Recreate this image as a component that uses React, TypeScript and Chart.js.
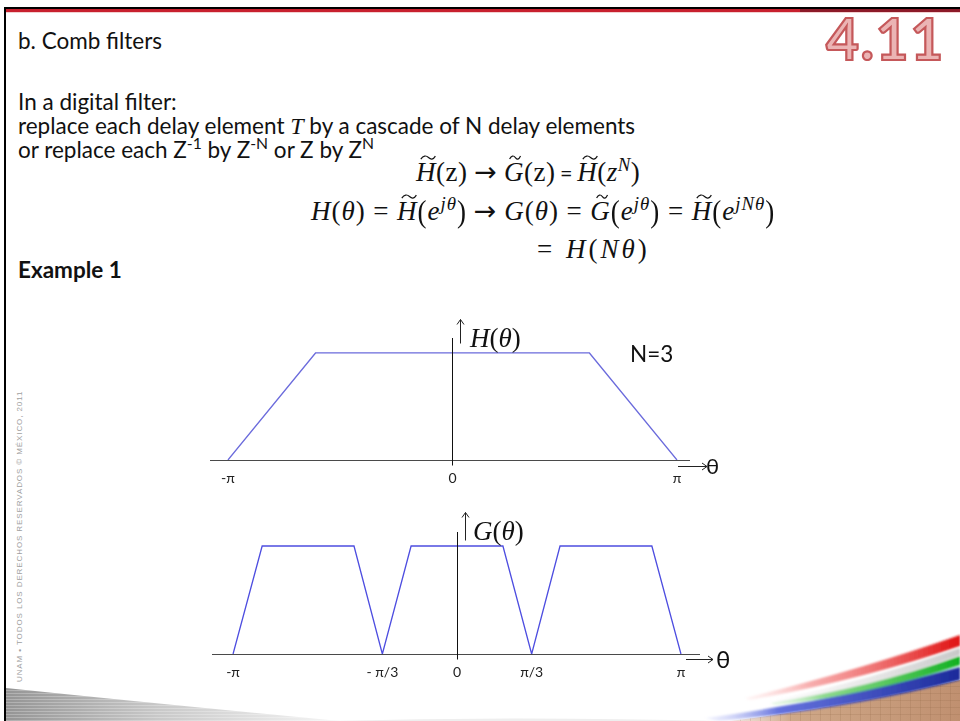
import React, { useEffect, useRef } from "react";
import { Chart, registerables } from "chart.js";

Chart.register(...registerables);

// Frequency axis in units of π, magnitude normalised to 1.
const hTheta = [-1, -0.61, 0.61, 1];
const hValue = [0, 1, 1, 0];
const gTheta = [-1, -0.87, -0.46, -1 / 3, -0.205, 0.205, 1 / 3, 0.46, 0.87, 1];
const gValue = [0, 1, 1, 0, 1, 1, 0, 1, 1, 0];

const hTicks = [-1, 0, 1];
const hTickLabels = ["-π", "0", "π"];
const gTicks = [-1, -1 / 3, 0, 1 / 3, 1];
const gTickLabels = ["-π", "- π/3", "0", "π/3", "π"];

const SANS = 'Lato, "Open Sans", "Noto Sans", sans-serif';
const SERIF = '"Liberation Serif", "DejaVu Serif", serif';

type ArrowOpts = {
  rx1: number; rx2: number; ry: number; // right arrow: offsets from chartArea.right / zero line
  ux: number; uy1: number; uy2: number; // up arrow: offsets from zero value pixel
  vTop: number; // value at which the vertical axis begins
};

const axesPlugin = {
  id: "combAxes",
  afterDatasetsDraw(chart: any, _args: any, opts: ArrowOpts) {
    const { ctx, chartArea, scales } = chart;
    const x = scales.x;
    const y = scales.y;
    const y0 = Math.round(y.getPixelForValue(0)) + 0.5;
    const x0 = Math.round(x.getPixelForValue(0)) + 0.5;
    ctx.save();
    ctx.lineWidth = 1;
    // horizontal axis
    ctx.strokeStyle = "#4a4a4a";
    ctx.beginPath();
    ctx.moveTo(chartArea.left, y0);
    ctx.lineTo(chartArea.right, y0);
    ctx.stroke();
    // vertical axis
    ctx.strokeStyle = "#111";
    ctx.beginPath();
    ctx.moveTo(x0, Math.round(y.getPixelForValue(opts.vTop)));
    ctx.lineTo(x0, y0 + 5);
    ctx.stroke();
    // right arrow
    const ax1 = chartArea.right + opts.rx1;
    const ax2 = chartArea.right + opts.rx2;
    const ay = y0 + opts.ry;
    ctx.strokeStyle = "#222";
    ctx.beginPath();
    ctx.moveTo(ax1, ay);
    ctx.lineTo(ax2, ay);
    ctx.moveTo(ax2 - 5, ay - 3.5);
    ctx.lineTo(ax2, ay);
    ctx.lineTo(ax2 - 5, ay + 3.5);
    ctx.stroke();
    // up arrow
    const ux = x0 + opts.ux;
    const uy1 = y0 + opts.uy1;
    const uy2 = y0 + opts.uy2;
    ctx.beginPath();
    ctx.moveTo(ux, uy2);
    ctx.lineTo(ux, uy1);
    ctx.moveTo(ux - 3.5, uy1 + 5);
    ctx.lineTo(ux, uy1);
    ctx.lineTo(ux + 3.5, uy1 + 5);
    ctx.stroke();
    ctx.restore();
  },
};

type PlotProps = {
  theta: number[];
  values: number[];
  ticks: number[];
  tickLabels: string[];
  left: number;
  top: number;
  width: number;
  height: number;
  padTop: number;
  padRight: number;
  xMin: number;
  xMax: number;
  yMax: number;
  color: string;
  arrows: ArrowOpts;
};

function ResponsePlot(p: PlotProps) {
  const ref = useRef<HTMLCanvasElement>(null);
  useEffect(() => {
    if (!ref.current) return;
    const chart = new Chart(ref.current, {
      type: "line",
      data: {
        datasets: [
          {
            data: p.theta.map((t, i) => ({ x: t, y: p.values[i] })),
            borderColor: p.color,
            borderWidth: 1.3,
            pointRadius: 0,
            tension: 0,
            fill: false,
          },
        ],
      },
      options: {
        animation: false,
        responsive: false,
        maintainAspectRatio: false,
        events: [],
        layout: { padding: { top: p.padTop, right: p.padRight, left: 0, bottom: 0 } },
        plugins: {
          legend: { display: false },
          tooltip: { enabled: false },
          combAxes: p.arrows,
        } as any,
        scales: {
          x: {
            type: "linear",
            min: p.xMin,
            max: p.xMax,
            grid: { display: false, drawTicks: false },
            border: { display: false },
            afterBuildTicks: (s: any) => {
              s.ticks = p.ticks.map((v) => ({ value: v }));
            },
            afterFit: (s: any) => {
              s.height = 30;
            },
            ticks: {
              autoSkip: false,
              maxRotation: 0,
              padding: 10,
              color: "#222",
              font: { family: SANS, size: 14 },
              callback: (_v: any, i: number) => p.tickLabels[i],
            },
          },
          y: { display: false, min: 0, max: p.yMax },
        },
      },
      plugins: [axesPlugin as any],
    });
    return () => chart.destroy();
  }, []);
  return (
    <canvas
      ref={ref}
      width={p.width}
      height={p.height}
      style={{ position: "absolute", left: p.left, top: p.top, width: p.width, height: p.height }}
    />
  );
}

// Letter with a wide tilde drawn over it.
function Tilde({ ch, w = 0.6, dx = 0.16 }: { ch: string; w?: number; dx?: number }) {
  return (
    <span style={{ position: "relative", display: "inline-block", fontStyle: "italic" }}>
      {ch}
      <svg
        viewBox="0 0 20 6"
        preserveAspectRatio="none"
        style={{ position: "absolute", left: `${dx}em`, top: "-0.06em", width: `${w}em`, height: "0.2em", overflow: "visible" }}
      >
        <path d="M1 4.5 C4 0.5, 7.5 0.2, 10.5 2.8 S16 5.6, 19 1.2" stroke="#111" strokeWidth={1.2} fill="none" vectorEffect="non-scaling-stroke" />
      </svg>
    </span>
  );
}

const sup: React.CSSProperties = { fontSize: "0.7em", verticalAlign: "0.55em", lineHeight: 0 };
const op: React.CSSProperties = { margin: "0 0.28em", fontStyle: "normal" };
const arrowOp: React.CSSProperties = { margin: "0 0.25em", fontStyle: "normal", fontFamily: '"DejaVu Sans", sans-serif', fontSize: "1em" };

function BigParen({ c }: { c: string }) {
  return <span style={{ display: "inline-block", transform: "scaleY(1.18)", fontStyle: "normal" }}>{c}</span>;
}

const bodyText: React.CSSProperties = {
  position: "absolute",
  left: 18,
  fontFamily: SANS,
  fontSize: 22.5,
  lineHeight: "26px",
  color: "#111",
  whiteSpace: "nowrap",
};

const mathLine: React.CSSProperties = {
  position: "absolute",
  fontFamily: SERIF,
  fontSize: 27,
  lineHeight: "30px",
  color: "#111",
  whiteSpace: "nowrap",
};

function Decorations() {
  return (
    <svg width={960} height={721} style={{ position: "absolute", left: 0, top: 0 }}>
      <defs>
        <linearGradient id="wedgeG" x1="6" x2="340" y1="0" y2="0" gradientUnits="userSpaceOnUse">
          <stop offset="0" stopColor="#959595" />
          <stop offset="0.45" stopColor="#c8c8c8" />
          <stop offset="1" stopColor="#f6f6f6" />
        </linearGradient>
        <linearGradient id="redG" x1="730" x2="960" y1="0" y2="0" gradientUnits="userSpaceOnUse">
          <stop offset="0" stopColor="#ffd0d0" stopOpacity="0" />
          <stop offset="0.35" stopColor="#f48a8a" stopOpacity="0.7" />
          <stop offset="1" stopColor="#e01010" />
        </linearGradient>
        <linearGradient id="greenG" x1="750" x2="960" y1="0" y2="0" gradientUnits="userSpaceOnUse">
          <stop offset="0" stopColor="#c8f0c8" stopOpacity="0" />
          <stop offset="0.35" stopColor="#70d070" stopOpacity="0.8" />
          <stop offset="1" stopColor="#10b020" />
        </linearGradient>
        <linearGradient id="blueG" x1="700" x2="960" y1="0" y2="0" gradientUnits="userSpaceOnUse">
          <stop offset="0" stopColor="#d8dcff" stopOpacity="0.2" />
          <stop offset="0.3" stopColor="#4a5ad8" stopOpacity="0.85" />
          <stop offset="1" stopColor="#1a2a9a" />
        </linearGradient>
        <linearGradient id="greyBand" x1="760" x2="960" y1="0" y2="0" gradientUnits="userSpaceOnUse">
          <stop offset="0" stopColor="#e0e0e0" stopOpacity="0" />
          <stop offset="1" stopColor="#c8c8c8" />
        </linearGradient>
        <linearGradient id="brownG" x1="720" x2="960" y1="0" y2="0" gradientUnits="userSpaceOnUse">
          <stop offset="0" stopColor="#e8d4c4" stopOpacity="0.4" />
          <stop offset="0.3" stopColor="#cfa888" />
          <stop offset="1" stopColor="#c09070" />
        </linearGradient>
        <pattern id="gridP" width="10" height="7" patternUnits="userSpaceOnUse">
          <path d="M0 0 H10 M0 0 V7" stroke="#8a6040" strokeWidth="1" opacity="0.35" fill="none" />
        </pattern>
        <pattern id="stripeP" width="8" height="3" patternUnits="userSpaceOnUse">
          <path d="M0 0.5 H8" stroke="#ffffff" strokeWidth="1" opacity="0.25" fill="none" />
        </pattern>
        <filter id="soft" x="-5%" y="-50%" width="110%" height="200%">
          <feGaussianBlur stdDeviation="1.1" />
        </filter>
      </defs>
      {/* grey wedge, bottom left */}
      <path d="M6 688 Q 150 703 340 721 L 6 721 Z" fill="url(#wedgeG)" />
      <path d="M6 688 Q 150 703 340 721 L 6 721 Z" fill="url(#stripeP)" />
      <path d="M330 721 Q 520 716 720 721 Z" fill="#eeeeee" />
      {/* brown grid base, bottom right */}
      <path d="M730 721 Q 850 706 960 680 L 960 721 Z" fill="url(#brownG)" />
      <path d="M730 721 Q 850 706 960 680 L 960 721 Z" fill="url(#gridP)" />
      {/* coloured sweep */}
      <g filter="url(#soft)">
        <path d="M705 718 Q 840 700 960 667 L 960 680 Q 850 709 718 721 Z" fill="url(#blueG)" />
        <path d="M770 703 Q 870 688 960 656 L 960 665 Q 870 695 775 705 Z" fill="url(#greenG)" />
        <path d="M775 700 Q 870 680 960 648 L 960 655 Q 870 688 780 702 Z" fill="url(#greyBand)" />
        <path d="M745 698 Q 860 670 960 635 L 960 646 Q 865 679 750 700 Z" fill="url(#redG)" />
      </g>
    </svg>
  );
}

export default function App() {
  return (
    <div
      style={{
        position: "fixed",
        left: 0,
        top: 0,
        width: 960,
        height: 721,
        background: "#fff",
        overflow: "hidden",
      }}
    >
      {/* slide frame */}
      <div style={{ position: "absolute", left: 4, top: 7, width: 956, height: 2, background: "#000" }} />
      <div style={{ position: "absolute", left: 4, top: 9, width: 796, height: 3, background: "#c8202e" }} />
      <div style={{ position: "absolute", left: 800, top: 9, width: 160, height: 3, background: "#8c1a28" }} />
      <div style={{ position: "absolute", left: 4, top: 12, width: 956, height: 1, background: "#f3d0d0" }} />
      <div style={{ position: "absolute", left: 4, top: 7, width: 2, height: 714, background: "#000" }} />

      <Decorations />

      {/* slide number */}
      <div
        style={{
          position: "absolute",
          left: 826,
          top: 6,
          fontFamily: SANS,
          fontWeight: 700,
          fontSize: 57,
          lineHeight: "64px",
          color: "#ebb4b4",
          WebkitTextStroke: "2.2px #c5585a",
          letterSpacing: 1.5,
        }}
      >
        4.11
      </div>

      <div style={{ ...bodyText, top: 28 }}>b. Comb filters</div>
      <div style={{ ...bodyText, top: 89 }}>In a digital filter:</div>
      <div style={{ ...bodyText, top: 113 }}>
        replace each delay element <i style={{ fontFamily: SERIF, fontSize: 24 }}>T</i> by a cascade of N delay elements
      </div>
      <div style={{ ...bodyText, top: 137 }}>
        or replace each Z<sup style={sup}>-1</sup> by Z<sup style={sup}>-N</sup> or Z by Z<sup style={sup}>N</sup>
      </div>
      <div style={{ ...bodyText, top: 257, fontWeight: 700 }}>Example 1</div>

      {/* relations between H and G */}
      <div style={{ ...mathLine, left: 416, top: 157, letterSpacing: 0.5 }}>
        <Tilde ch="H" />(z)<span style={arrowOp}>→</span>
        <Tilde ch="G" w={0.45} dx={0.2} />(z)<span style={{ ...op, margin: "0 0.2em", fontFamily: SANS, fontSize: "0.8em" }}>=</span>
        <Tilde ch="H" />(<i>z</i>
        <sup style={sup}>
          <i>N</i>
        </sup>
        )
      </div>
      <div style={{ ...mathLine, left: 311, top: 196, letterSpacing: 1 }}>
        <i>H</i>(<i>θ</i>)<span style={op}>=</span>
        <Tilde ch="H" />
        <BigParen c="(" />
        <i>e</i>
        <sup style={sup}>
          <i>jθ</i>
        </sup>
        <BigParen c=")" />
        <span style={arrowOp}>→</span>
        <i>G</i>(<i>θ</i>)<span style={op}>=</span>
        <Tilde ch="G" w={0.45} dx={0.2} />
        <BigParen c="(" />
        <i>e</i>
        <sup style={sup}>
          <i>jθ</i>
        </sup>
        <BigParen c=")" />
        <span style={op}>=</span>
        <Tilde ch="H" />
        <BigParen c="(" />
        <i>e</i>
        <sup style={sup}>
          <i>jNθ</i>
        </sup>
        <BigParen c=")" />
      </div>
      <div style={{ ...mathLine, left: 537, top: 234, letterSpacing: 3 }}>
        <span style={{ ...op, marginLeft: 0, marginRight: "0.4em" }}>=</span>
        <i>H</i>(<i>Nθ</i>)
      </div>

      {/* H(θ) */}
      <ResponsePlot
        theta={hTheta}
        values={hValue}
        ticks={hTicks}
        tickLabels={hTickLabels}
        left={210}
        top={300}
        width={520}
        height={190}
        padTop={20}
        padRight={40}
        xMin={-1.08}
        xMax={1.058}
        yMax={1.308}
        color="#6b6bdc"
        arrows={{ rx1: -12, rx2: 17, ry: 6, ux: 8, uy1: -141, uy2: -117, vTop: 1.14 }}
      />
      <div style={{ ...mathLine, left: 470, top: 323, fontStyle: "italic" }}>
        H<span style={{ fontStyle: "normal" }}>(</span>θ<span style={{ fontStyle: "normal" }}>)</span>
      </div>
      <div style={{ ...bodyText, left: 630, top: 341 }}>N=3</div>
      <div style={{ ...bodyText, left: 706, top: 453, fontSize: 22 }}>θ</div>

      {/* G(θ) = H(3θ) */}
      <ResponsePlot
        theta={gTheta}
        values={gValue}
        ticks={gTicks}
        tickLabels={gTickLabels}
        left={212}
        top={494}
        width={540}
        height={190}
        padTop={20}
        padRight={52}
        xMin={-1.094}
        xMax={1.085}
        yMax={1.296}
        color="#4d4de0"
        arrows={{ rx1: -14, rx2: 13, ry: 5, ux: 8, uy1: -142, uy2: -114, vTop: 1.13 }}
      />
      <div style={{ ...mathLine, left: 473, top: 516, fontStyle: "italic" }}>
        G<span style={{ fontStyle: "normal" }}>(</span>θ<span style={{ fontStyle: "normal" }}>)</span>
      </div>
      <div style={{ ...bodyText, left: 716, top: 646, fontSize: 24 }}>θ</div>

      {/* copyright strip */}
      <div
        style={{
          position: "absolute",
          left: 15,
          top: 682,
          transformOrigin: "0 0",
          transform: "rotate(-90deg)",
          fontFamily: '"Liberation Sans", Arial, sans-serif',
          fontSize: 8,
          letterSpacing: 0.9,
          color: "#a0a0a0",
          whiteSpace: "nowrap",
          lineHeight: "10px",
        }}
      >
        UNAM • TODOS LOS DERECHOS RESERVADOS © MÉXICO, 2011
      </div>
    </div>
  );
}
